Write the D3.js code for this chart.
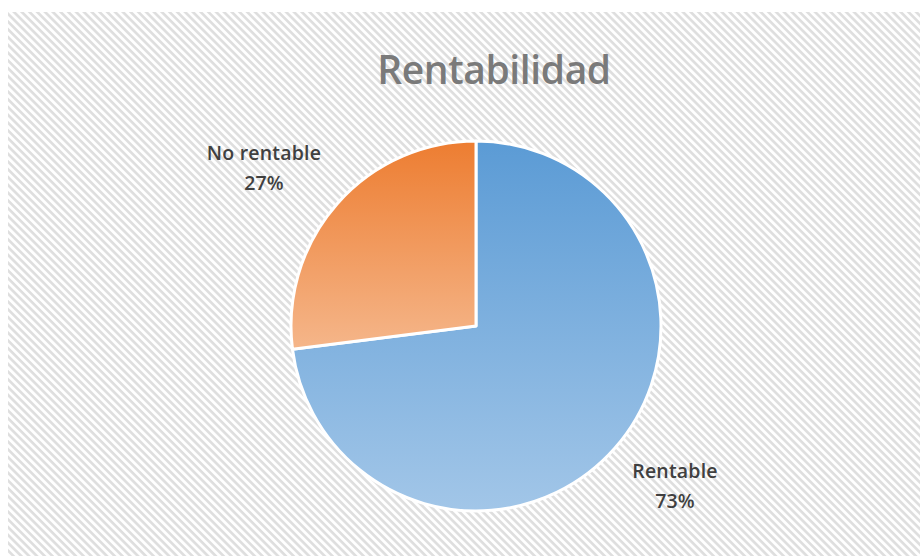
<!DOCTYPE html>
<html>
<head>
<meta charset="utf-8">
<script src="https://cdn.jsdelivr.net/npm/d3@7"></script>
<style>
  body { margin: 0; background: #fff; }
  svg { display: block; }
</style>
</head>
<body>
<div id="chart"></div>
<script>
// data
var categories = ["Rentable", "No rentable"];
var values = [73, 27];
var title = "Rentabilidad";

var W = 920, H = 556;
var cx = 476, cy = 326, radius = 185;

var colors = [
	{ top: "#5b9bd5", bottom: "#a2c6e8" },
	{ top: "#ed7d31", bottom: "#f5b68a" }
];

var svg = d3.select("#chart")
	.append("svg")
	.attr("width", W)
	.attr("height", H);

var defs = svg.append("defs");

// diagonal stripe background
var pat = defs.append("pattern")
	.attr("id", "stripes")
	.attr("patternUnits", "userSpaceOnUse")
	.attr("width", 5.5)
	.attr("height", 5.5)
	.attr("patternTransform", "rotate(-45)");
pat.append("rect").attr("width", 5.5).attr("height", 5.5).attr("fill", "#ffffff");
pat.append("line")
	.attr("x1", 1.4).attr("y1", 0)
	.attr("x2", 1.4).attr("y2", 5.5)
	.attr("stroke", "#dedede")
	.attr("stroke-width", 2.6);

svg.append("rect")
	.attr("x", 8).attr("y", 12)
	.attr("width", W - 8).attr("height", H - 12)
	.attr("fill", "url(#stripes)");

// gradients per slice
colors.forEach(function(c, i){
	var g = defs.append("linearGradient")
		.attr("id", "grad" + i)
		.attr("x1", 0).attr("y1", 0)
		.attr("x2", 0).attr("y2", 1);
	g.append("stop").attr("offset", "0%").attr("stop-color", c.top);
	g.append("stop").attr("offset", "100%").attr("stop-color", c.bottom);
});

svg.append("text")
	.attr("x", 494)
	.attr("y", 84)
	.attr("text-anchor", "middle")
	.style("font-family", "'Open Sans', 'Noto Sans', sans-serif")
	.style("font-size", "39px")
	.style("font-weight", 600)
	.style("letter-spacing", "-0.4px")
	.style("fill", "#7a7a7a")
	.text(title);

var data = categories.map(function(c, i){ return { name: c, value: values[i] }; });

var pie = d3.pie()
	.sort(null)
	.value(function(d){ return d.value; });

var arc = d3.arc()
	.innerRadius(0)
	.outerRadius(radius);

var g = svg.append("g")
	.attr("transform", "translate(" + cx + "," + cy + ")");

g.selectAll("path")
	.data(pie(data))
	.enter()
	.append("path")
	.attr("d", arc)
	.style("fill", function(d, i){ return "url(#grad" + i + ")"; })
	.style("stroke", "#ffffff")
	.style("stroke-width", 3)
	.style("stroke-linejoin", "round");

// labels
var labelPos = [[675, 478], [264, 160]];

var labels = svg.selectAll("text.lbl")
	.data(data)
	.enter()
	.append("text")
	.attr("class", "lbl")
	.attr("text-anchor", "middle")
	.attr("x", function(d, i){ return labelPos[i][0]; })
	.attr("y", function(d, i){ return labelPos[i][1]; })
	.style("font-family", "'Open Sans', 'Noto Sans', sans-serif")
	.style("font-size", "19.5px")
	.style("font-weight", 600)
	.style("letter-spacing", "0.2px")
	.style("fill", "#404040");

labels.append("tspan")
	.attr("x", function(d, i){ return labelPos[i][0]; })
	.text(function(d){ return d.name; });

labels.append("tspan")
	.attr("x", function(d, i){ return labelPos[i][0]; })
	.attr("dy", 30)
	.text(function(d){
		var total = d3.sum(values);
		return Math.round(d.value / total * 100) + "%";
	});
</script>
</body>
</html>
